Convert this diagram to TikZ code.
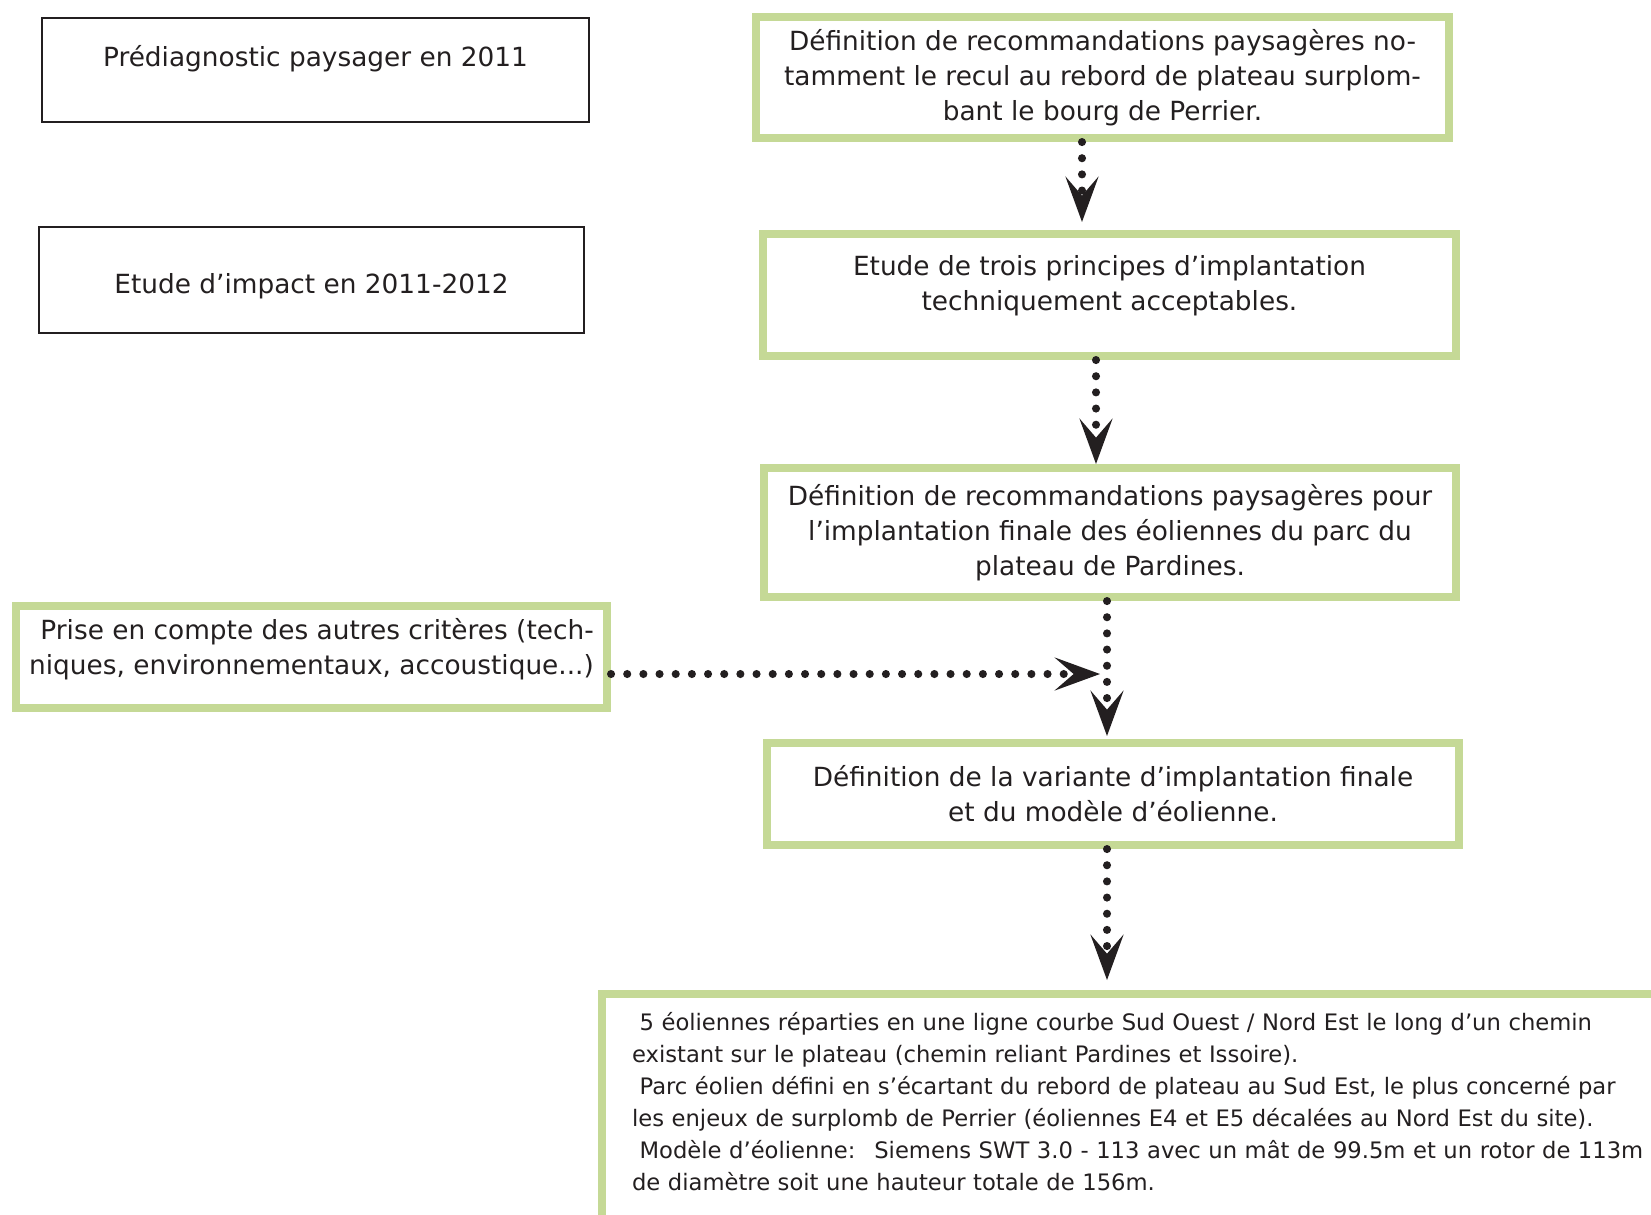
\documentclass[tikz,border=0pt]{standalone}
\usepackage{fontspec}
\setmainfont{DejaVu Sans}
\usetikzlibrary{arrows.meta}
\definecolor{vert}{RGB}{197,217,150}
\definecolor{encre}{RGB}{35,31,32}

\begin{document}
\begin{tikzpicture}[
  noir/.style={draw=encre, line width=0.6pt, inner sep=0pt, align=center, text=encre, font=\fontsize{7.5}{10}\selectfont},
  cadre/.style={draw=vert, line width=2.3pt, inner sep=0pt, align=center, text=encre, font=\fontsize{7.5}{10}\selectfont},
  fleche/.style={encre, line width=2.3pt, line cap=round, dash pattern=on 0pt off 4.6pt, -{Stealth[length=13pt,width=9.5pt,inset=5.5pt,line width=0pt]}}
]

\useasboundingbox (0,0) rectangle (16.51,-12.14);
\clip (0,0) rectangle (16.51,-12.14);

\node[noir, text depth=7.8pt, minimum width=5.47cm, minimum height=1.04cm] (prediag) at (3.155,-0.70) {Prédiagnostic paysager en 2011};
\node[noir, text height=9.4pt, minimum width=5.45cm, minimum height=1.06cm] (impact) at (3.115,-2.80) {Etude d’impact en 2011-2012};

\node[cadre, minimum width=6.93cm, minimum height=1.21cm] (recul) at (11.025,-0.775) {Définition de recommandations paysagères no-\\tamment le recul au rebord de plateau surplom-\\bant le bourg de Perrier.};
\node[cadre, minimum width=6.93cm, minimum height=1.22cm] (principes) at (11.095,-2.95) {Etude de trois principes d’implantation\\techniquement acceptables.\\[-3pt]\mbox{}};
\node[cadre, minimum width=6.92cm, minimum height=1.29cm] (recos) at (11.10,-5.325) {Définition de recommandations paysagères pour\\l’implantation finale des éoliennes du parc du\\plateau de Pardines.};
\node[cadre, align=right, minimum width=5.91cm, minimum height=1.02cm] (criteres) at (3.115,-6.57) {\ Prise en compte des autres critères (tech-\\niques, environnementaux, accoustique...)\\[-4pt]\mbox{}};
\node[cadre, minimum width=6.92cm, minimum height=1.02cm] (variante) at (11.13,-7.94) {Définition de la variante d’implantation finale\\et du modèle d’éolienne.};
\node[cadre, anchor=north west, align=left, text width=10.7cm, inner xsep=3mm, inner ysep=1.8mm, font=\fontsize{6.45}{9.1}\selectfont] (parc) at (5.98,-9.90) {\ 5 éoliennes réparties en une ligne courbe Sud Ouest / Nord Est le long d’un chemin\\existant sur le plateau (chemin reliant Pardines et Issoire).\\\ Parc éolien défini en s’écartant du rebord de plateau au Sud Est, le plus concerné par\\les enjeux de surplomb de Perrier (éoliennes E4 et E5 décalées au Nord Est du site).\\\ Modèle d’éolienne:~ Siemens SWT 3.0 - 113 avec un mât de 99.5m et un rotor de 113m\\de diamètre soit une hauteur totale de 156m.\\ \mbox{}};

\draw[fleche, shorten >=0.8mm] ([xshift=-2.05mm]recul.south) -- ([xshift=-2.75mm]principes.north);
\draw[fleche] ([xshift=-1.35mm]principes.south) -- ([xshift=-1.4mm]recos.north);
\draw[fleche, shorten >=0.3mm] ([xshift=-0.3mm]recos.south) -- ([xshift=-0.6mm]variante.north);
\draw[fleche, shorten >=1mm] ([xshift=-0.6mm]variante.south) -- ([xshift=-0.6mm]variante.south |- parc.north);
\draw[fleche, shorten >=1mm] ([yshift=-1.7mm]criteres.east) -- ([yshift=-1.7mm]criteres.east -| recos.south);

\end{tikzpicture}
\end{document}
